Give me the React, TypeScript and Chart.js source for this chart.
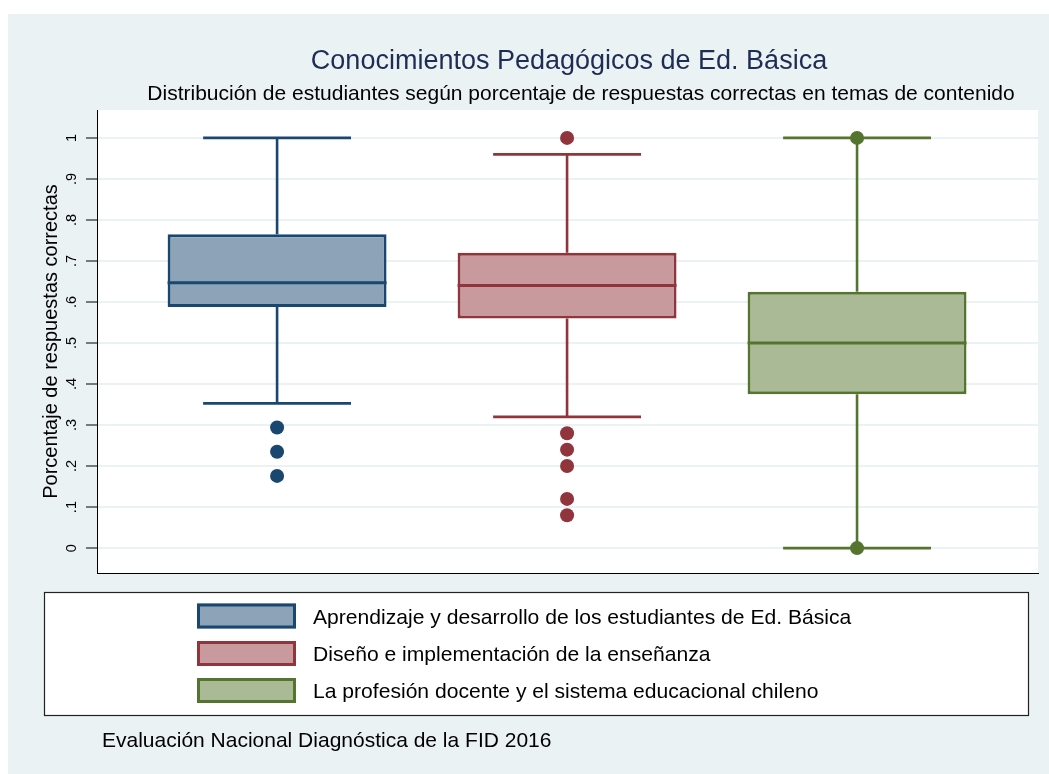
import React, { useEffect, useRef } from 'react';
import { Chart, registerables } from 'chart.js';

Chart.register(...registerables);

// ---------- data ----------
const TITLE = 'Conocimientos Pedagógicos de Ed. Básica';
const SUBTITLE = 'Distribución de estudiantes según porcentaje de respuestas correctas en temas de contenido';
const Y_TITLE = 'Porcentaje de respuestas correctas';
const CAPTION = 'Evaluación Nacional Diagnóstica de la FID 2016';

const CATEGORIES = [
  'Aprendizaje y desarrollo de los estudiantes de Ed. Básica',
  'Diseño e implementación de la enseñanza',
  'La profesión docente y el sistema educacional chileno',
];
const X_POS = [1, 2, 3];
const WHISKER_LOW = [0.353, 0.32, 0];
const Q1 = [0.588, 0.56, 0.375];
const MEDIAN = [0.647, 0.64, 0.5];
const Q3 = [0.765, 0.72, 0.625];
const WHISKER_HIGH = [1, 0.96, 1];
const OUTLIERS_APRENDIZAJE = [0.294, 0.235, 0.176];
const OUTLIERS_DISENO = [1, 0.28, 0.24, 0.2, 0.12, 0.08];
const OUTLIERS_PROFESION = [1, 0];
const OUTLIERS = [OUTLIERS_APRENDIZAJE, OUTLIERS_DISENO, OUTLIERS_PROFESION];

const Y_TICKS = [0, 0.1, 0.2, 0.3, 0.4, 0.5, 0.6, 0.7, 0.8, 0.9, 1];
const Y_TICK_LABELS = ['0', '.1', '.2', '.3', '.4', '.5', '.6', '.7', '.8', '.9', '1'];

// ---------- style ----------
const LINE_COLORS = ['rgb(26,71,111)', 'rgb(144,53,59)', 'rgb(85,117,47)'];
const FILL_COLORS = ['rgb(141,164,184)', 'rgb(200,154,157)', 'rgb(170,186,151)'];
const BG = 'rgb(234,242,243)';
const TITLE_COLOR = 'rgb(30,45,85)';
const FONT = '"Liberation Sans", Arial, sans-serif';
const BOX_FRACTION = 0.755; // of category spacing
const BOX_HALF = BOX_FRACTION / 2;
const CAP_HALF = 0.255;

const W = 1049;
const H = 774;

const decorPlugin = {
  id: 'decor',
  beforeDraw(chart: any) {
    const { ctx, chartArea } = chart;
    ctx.save();
    ctx.fillStyle = '#ffffff';
    ctx.fillRect(0, 0, W, H);
    ctx.fillStyle = BG;
    ctx.fillRect(8, 14, W - 8, H - 14);
    ctx.fillStyle = '#ffffff';
    ctx.fillRect(chartArea.left, chartArea.top, chartArea.right - chartArea.left, chartArea.bottom - chartArea.top);
    ctx.restore();
  },
  afterDraw(chart: any) {
    const { ctx } = chart;
    ctx.save();
    // titles
    ctx.textAlign = 'center';
    ctx.textBaseline = 'alphabetic';
    ctx.fillStyle = TITLE_COLOR;
    ctx.font = `27px ${FONT}`;
    ctx.fillText(TITLE, 569, 69);
    ctx.fillStyle = '#000';
    ctx.font = `21px ${FONT}`;
    ctx.fillText(SUBTITLE, 581, 100);

    // legend box
    ctx.fillStyle = '#fff';
    ctx.fillRect(44, 592, 984, 123);
    ctx.strokeStyle = '#222';
    ctx.lineWidth = 1.2;
    ctx.strokeRect(44.5, 592.5, 984, 123);

    const rowCenters = [616, 653.5, 690.5];
    CATEGORIES.forEach((label, i) => {
      const cy = rowCenters[i];
      ctx.fillStyle = FILL_COLORS[i];
      ctx.fillRect(197, cy - 12.5, 99, 25);
      ctx.strokeStyle = LINE_COLORS[i];
      ctx.lineWidth = 3;
      ctx.strokeRect(198.5, cy - 11, 96, 22);
      ctx.fillStyle = '#000';
      ctx.font = `21.1px ${FONT}`;
      ctx.textAlign = 'left';
      ctx.fillText(label, 313, cy + 7.5);
    });

    // caption
    ctx.font = `21px ${FONT}`;
    ctx.fillText(CAPTION, 102, 747);
    ctx.restore();
  },
};

export default function App() {
  const ref = useRef<HTMLCanvasElement>(null);

  useEffect(() => {
    const canvas = ref.current!;
    const datasets: any[] = [];

    datasets.push({
      type: 'bar',
      data: X_POS.map((x, i) => ({ x, y: [Q1[i], Q3[i]] })),
      backgroundColor: FILL_COLORS,
      borderColor: LINE_COLORS,
      borderWidth: 3,
      borderSkipped: false,
      barPercentage: BOX_FRACTION,
      categoryPercentage: 1,
      order: 3,
    });

    X_POS.forEach((c, i) => {
      const seg = (pts: { x: number; y: number }[], width: number) =>
        datasets.push({
          type: 'line',
          data: pts,
          borderColor: LINE_COLORS[i],
          borderWidth: width,
          pointRadius: 0,
          fill: false,
          borderCapStyle: 'butt',
          order: 1,
        });
      seg([{ x: c, y: Q3[i] }, { x: c, y: WHISKER_HIGH[i] }], 2.6);
      seg([{ x: c, y: Q1[i] }, { x: c, y: WHISKER_LOW[i] }], 2.6);
      seg([{ x: c - CAP_HALF, y: WHISKER_HIGH[i] }, { x: c + CAP_HALF, y: WHISKER_HIGH[i] }], 2.8);
      seg([{ x: c - CAP_HALF, y: WHISKER_LOW[i] }, { x: c + CAP_HALF, y: WHISKER_LOW[i] }], 2.8);
      seg([{ x: c - BOX_HALF, y: MEDIAN[i] }, { x: c + BOX_HALF, y: MEDIAN[i] }], 3);
    });

    OUTLIERS.forEach((arr, i) => {
      datasets.push({
        type: 'scatter',
        data: arr.map((y) => ({ x: X_POS[i], y })),
        pointRadius: 7,
        pointBackgroundColor: LINE_COLORS[i],
        pointBorderColor: LINE_COLORS[i],
        pointBorderWidth: 0,
        showLine: false,
        order: 0,
      });
    });

    const chart = new Chart(canvas, {
      type: 'scatter',
      data: { datasets },
      plugins: [decorPlugin],
      options: {
        responsive: false,
        animation: false,
        devicePixelRatio: 1,
        events: [],
        layout: { padding: { left: 8, top: 110, right: 11, bottom: 201 } },
        plugins: {
          legend: { display: false },
          title: { display: false },
          tooltip: { enabled: false },
        },
        scales: {
          x: {
            type: 'linear',
            min: 0.379,
            max: 3.624,
            offset: false,
            afterBuildTicks: (s: any) => {
              s.ticks = X_POS.map((v) => ({ value: v }));
            },
            ticks: { display: false },
            grid: { display: false, drawTicks: false },
            border: { display: true, color: '#000', width: 1 },
            afterFit: (s: any) => {
              s.height = 0;
            },
          },
          y: {
            type: 'linear',
            min: -0.0607,
            max: 1.068,
            beginAtZero: false,
            afterBuildTicks: (s: any) => {
              s.ticks = Y_TICKS.map((v) => ({ value: v }));
            },
            afterFit: (s: any) => {
              s.width = 89;
            },
            ticks: {
              autoSkip: false,
              minRotation: 90,
              maxRotation: 90,
              crossAlign: 'center',
              padding: 8,
              color: '#000',
              font: { family: FONT, size: 14.5 },
              callback: (v: any) => {
                const idx = Y_TICKS.findIndex((t) => Math.abs(t - Number(v)) < 1e-9);
                return idx >= 0 ? Y_TICK_LABELS[idx] : '';
              },
            },
            grid: {
              color: BG,
              lineWidth: 2,
              tickColor: '#000',
              tickWidth: 1,
              tickLength: 11,
              drawTicks: true,
            },
            border: { display: true, color: '#000', width: 1 },
            title: {
              display: true,
              text: Y_TITLE,
              color: '#000',
              font: { family: FONT, size: 20 },
              padding: { top: 31, bottom: 0 },
            },
          },
        },
      } as any,
    });

    return () => chart.destroy();
  }, []);

  return (
    <div style={{ position: 'fixed', left: 0, top: 0, width: W, height: H }}>
      <canvas ref={ref} width={W} height={H} style={{ display: 'block', width: W, height: H }} />
    </div>
  );
}
